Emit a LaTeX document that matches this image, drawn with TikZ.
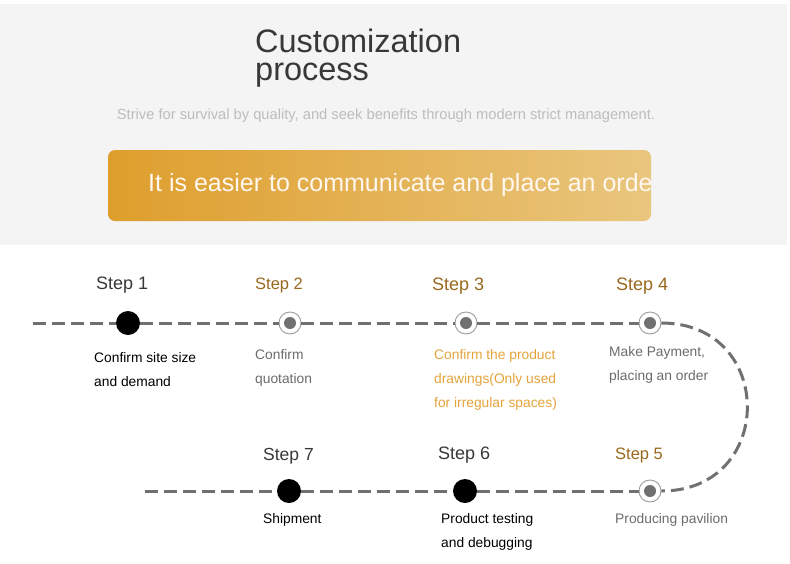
\documentclass[tikz,border=0pt]{standalone}
\usepackage{fontspec}
\setmainfont{Liberation Sans}
\usetikzlibrary{positioning,calc}
\definecolor{topgray}{HTML}{F4F4F4}
\definecolor{linegray}{HTML}{707070}
\definecolor{titlegray}{HTML}{383838}
\definecolor{subgray}{HTML}{BDBDBD}
\definecolor{descgray}{HTML}{6B6B6B}
\definecolor{stepbrown}{HTML}{98681C}
\definecolor{orangeL}{HTML}{DE9E2C}
\definecolor{orangeR}{HTML}{E9C67E}
\definecolor{orangetext}{HTML}{E3A33A}
\tikzset{
    dot/.style={
        circle,
        fill=black,
        minimum size=24pt,
        inner sep=0pt
    },
    ring/.style={
        circle,
        draw=linegray!70,
        line width=0.9pt,
        fill=white,
        minimum size=22pt,
        inner sep=0pt,
        path picture={\fill[linegray] (path picture bounding box.center) circle (6pt);}
    },
    dashline/.style={
        draw=linegray,
        line width=3pt,
        dash pattern=on 13pt off 6pt
    }
}

\begin{document}
\begin{tikzpicture}[x=1pt,y=-1pt]
  % Styles for texts (base = baseline of the last line)
  \tikzset{
    steplabel/.style={anchor=base west, inner sep=0pt, font=\fontsize{18}{20}\selectfont},
    desc/.style={anchor=base west, inner sep=0pt, align=left, font=\fontsize{13.8}{24}\selectfont}
  }
  \useasboundingbox (0,0) rectangle (790,563);

  % Header background
  \fill[topgray] (0,4) rectangle (787,245);

  % Title and subtitle
  \node[anchor=base west, inner sep=0pt, align=left, text=titlegray,
        font=\fontsize{32.5}{28}\selectfont] (title) at (255,80.5) {Customization\\process};
  \node[anchor=base, inner sep=0pt, text=subgray, font=\fontsize{14.7}{16}\selectfont]
        (motto) at (386,119) {Strive for survival by quality, and seek benefits through modern strict management.};

  % Banner with clipped text
  \begin{scope}
    \path[clip, rounded corners=7pt] (108,150) rectangle (651,221);
    \shade[left color=orangeL, right color=orangeR] (108,150) rectangle (651,221);
    \node[anchor=base west, inner sep=0pt, text=white!94!orange, font=\fontsize{25}{28}\selectfont]
          (banner) at (148,191) {It is easier to communicate and place an order};
  \end{scope}

  % Step markers
  \coordinate (start) at (33,323);
  \coordinate (stop) at (145,491);
  \node[dot] (s1) at (128,323) {};
  \foreach \name/\x/\y in {s2/290/323, s3/466/323, s4/650/323, s5/650/491} {
    \node[ring] (\name) at (\x,\y) {};
  }
  \node[dot] (s6) at (465,491) {};
  \node[dot] (s7) at (289,491) {};

  % Dashed route
  \draw[dashline] (start) -- (s1) -- (s2) -- (s3) -- (s4);
  \draw[dashline] (s4) .. controls +(126,0) and +(126,0) .. (s5);
  \draw[dashline] (stop) -- (s7) -- (s6) -- (s5);

  % Step titles
  \node[steplabel, text=titlegray] (t1) at (96,289) {Step 1};
  \node[steplabel, text=stepbrown, font=\fontsize{16.5}{20}\selectfont] (t2) at (255,289) {Step 2};
  \node[steplabel, text=stepbrown] (t3) at (432,290) {Step 3};
  \node[steplabel, text=stepbrown] (t4) at (616,290) {Step 4};
  \node[steplabel, text=stepbrown, font=\fontsize{16.5}{20}\selectfont] (t5) at (615,459) {Step 5};
  \node[steplabel, text=titlegray, font=\fontsize{17.5}{20}\selectfont] (t7) at (263,460) {Step 7};
  \node[steplabel, text=titlegray] (t6) at (438,459) {Step 6};

  % Step descriptions
  \node[desc, text=black] (d1) at (94,386) {Confirm site size\\and demand};
  \node[desc, text=descgray] (d2) at (255,383) {Confirm\\quotation};
  \node[desc, text=orangetext] (d3) at (434,407) {Confirm the product\\drawings(Only used\\for irregular spaces)};
  \node[desc, text=descgray] (d4) at (609,380) {Make Payment,\\placing an order};
  \node[desc, text=descgray] (d5) at (615,523) {Producing pavilion};
  \node[desc, text=black] (d7) at (263,523) {Shipment};
  \node[desc, text=black] (d6) at (441,547) {Product testing\\and debugging};
\end{tikzpicture}
\end{document}
